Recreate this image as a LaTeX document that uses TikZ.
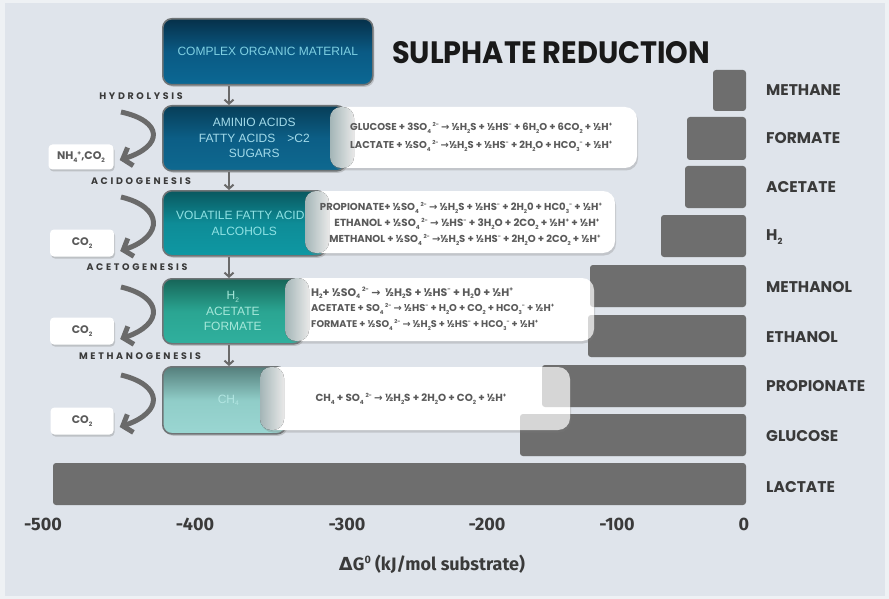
\documentclass[tikz,border=0pt]{standalone}
\usepackage{fontspec}
\setmainfont{Liberation Sans}
\newfontfamily\pop{Poppins}
\newfontfamily\popsp{Poppins}[LetterSpace=28]
\newfontfamily\arrfont{DejaVu Sans}
\newfontfamily\fira{Fira Sans}
\usetikzlibrary{arrows.meta,shadows,calc}
\definecolor{bg}{HTML}{DFE4EB}
\definecolor{frame}{HTML}{EEF1F4}
\definecolor{barc}{HTML}{6E6E6E}
\definecolor{lblc}{HTML}{3A3A3A}
\definecolor{eqc}{HTML}{5A5A5A}
\definecolor{arrc}{HTML}{6A6A6A}
\definecolor{bordc}{HTML}{6F7476}
\definecolor{curlc}{HTML}{B3C7C9}
\definecolor{bzt}{HTML}{063049}\definecolor{bzm}{HTML}{0A5A84}\definecolor{bzb}{HTML}{0B6894}\definecolor{bzx}{HTML}{7FD0E2}
\definecolor{bat}{HTML}{073E58}\definecolor{bam}{HTML}{0C5E86}\definecolor{bab}{HTML}{0E6990}\definecolor{bax}{HTML}{A3DBEA}
\definecolor{bbt}{HTML}{09585F}\definecolor{bbm}{HTML}{0E8C97}\definecolor{bbb}{HTML}{0E98A3}\definecolor{bbx}{HTML}{8FE2E4}
\definecolor{bct}{HTML}{176558}\definecolor{bcm}{HTML}{2AA592}\definecolor{bcb}{HTML}{30B09E}\definecolor{bcx}{HTML}{A6E8DA}
\definecolor{bdt}{HTML}{557F7C}\definecolor{bdm}{HTML}{90CDC8}\definecolor{bdb}{HTML}{9AD6D2}\definecolor{bdx}{HTML}{B2E6E2}
\newcommand\eqsub[1]{\raisebox{-0.45ex}{\scalebox{0.55}{#1}}}
\newcommand\eqsup[1]{\raisebox{0.75ex}{\scalebox{0.55}{#1}}}
\newcommand\SOf{SO\eqsub{4}\,\eqsup{2-}}
\newcommand\rar{{\arrfont\bfseries →}}
\newcommand\hf{½}
\tikzset{
  cbox/.style={draw=bordc, line width=1.6pt, rounded corners=9pt, anchor=north west,
     inner sep=0pt, align=center, font=\fontsize{12}{15.5}\selectfont,
     drop shadow={opacity=0.35, shadow xshift=1.5pt, shadow yshift=-2pt}},
  eqbox/.style={fill=white, rounded corners=12pt,
     drop shadow={opacity=0.3, shadow xshift=1pt, shadow yshift=-2.5pt}},
  curl/.style={left color=curlc, right color=white, rounded corners=11pt, fill opacity=0.9},
  eqt/.style={inner sep=0pt, text=eqc, font=\pop\bfseries\fontsize{8}{8}\selectfont},
  stagelbl/.style={inner sep=0pt, text=lblc, font=\popsp\bfseries\fontsize{9.5}{9.5}\selectfont},
  gasbox/.style={fill=white, rounded corners=4pt, inner sep=0pt, text=eqc,
     font=\pop\bfseries\fontsize{11}{11}\selectfont,
     drop shadow={opacity=0.35, shadow xshift=1pt, shadow yshift=-2pt}},
  curv/.style={draw=arrc, line width=5pt, -{Straight Barb[length=8pt,width=19pt]}},
  darr/.style={draw=arrc, line width=2pt, -{Straight Barb[length=4pt,width=9pt]}},
  barlbl/.style={anchor=west, inner sep=0pt, text=lblc, font=\pop\bfseries\fontsize{15.5}{15.5}\selectfont},
  tick/.style={inner sep=0pt, text=lblc, font=\fira\bfseries\fontsize{18}{18}\selectfont},
  gbar/.style={fill=barc, rounded corners=3pt},
  ghost/.style={fill=barc, fill opacity=0.28, rounded corners=3pt}
}
\begin{document}
\begin{tikzpicture}[x=1pt,y=-1pt]
\useasboundingbox (0,0) rectangle (889,599);
\fill[frame] (0,0) rectangle (889,599);
\fill[bg] (5,3) rectangle (885,596);

% ---- bars
\fill[gbar] (713,70) rectangle (746,111);
\fill[gbar] (687,117) rectangle (746,160);
\fill[gbar] (685,166) rectangle (746,208);
\fill[gbar] (661,215) rectangle (746,257);
\fill[gbar] (590,265) rectangle (746,307);
\fill[gbar] (588,315) rectangle (746,357);
\fill[gbar] (542,365) rectangle (746,407);
\fill[gbar] (520,414) rectangle (746,456);
\fill[gbar] (53,463) rectangle (746,505);

\node[barlbl] (lmethane) at (766,90) {METHANE};
\node[barlbl] (lformate) at (766,138) {FORMATE};
\node[barlbl] (lacetate) at (766,187) {ACETATE};
\node[barlbl] (lh2) at (766,237) {H\eqsub{2}};
\node[barlbl] (lmethanol) at (766,287) {METHANOL};
\node[barlbl] (lethanol) at (766,337) {ETHANOL};
\node[barlbl] (lpropionate) at (766,386) {PROPIONATE};
\node[barlbl] (lglucose) at (766,436) {GLUCOSE};
\node[barlbl] (llactate) at (766,487) {LACTATE};

% ---- axis
\node[tick] (t500) at (43,524) {-500};
\node[tick] (t400) at (195,524) {-400};
\node[tick] (t300) at (347,524) {-300};
\node[tick] (t200) at (487,524) {-200};
\node[tick] (t100) at (617,524) {-100};
\node[tick] (t0) at (744,524) {0};
\node[inner sep=0pt, text=lblc, font=\fira\bfseries\fontsize{18}{18}\selectfont] (axlbl) at (432,564)
  {{\arrfont\bfseries Δ}G\raisebox{0.7ex}{\scalebox{0.6}{0}} (kJ/mol substrate)};

% ---- title
\node[inner sep=0pt, anchor=west, text=black!90] (title) at (392,53)
  {\resizebox{318pt}{22pt}{\pop\bfseries SULPHATE REDUCTION}};

% ---- coloured boxes
\node[cbox, minimum width=210pt, minimum height=66pt, top color=bzt, bottom color=bzb, middle color=bzm, text=bzx] (b0) at (162,18) {COMPLEX ORGANIC MATERIAL};
\node[cbox, minimum width=183pt, minimum height=65pt, top color=bat, bottom color=bab, middle color=bam, text=bax] (b1) at (162,105) {AMINIO ACIDS\\FATTY ACIDS\quad{}>C2\\SUGARS};
\node[cbox, minimum width=163pt, minimum height=65pt, top color=bbt, bottom color=bbb, middle color=bbm, text=bbx] (b2) at (162,190) {VOLATILE FATTY ACIDS\\ALCOHOLS};
\node[cbox, minimum width=140pt, minimum height=65pt, top color=bct, bottom color=bcb, middle color=bcm, text=bcx] (b3) at (162,278) {H\eqsub{2}\\ACETATE\\FORMATE};
\node[cbox, minimum width=123pt, minimum height=67pt, top color=bdt, bottom color=bdb, middle color=bdm, text=bdx] (b4) at (162,366) {\hspace*{8pt}CH\eqsub{4}};

% ---- down arrows
\draw[darr] (b0.south -| 229,0) -- (b1.north -| 229,0);
\draw[darr] (b1.south -| 229,0) -- (b2.north -| 229,0);
\draw[darr] (b2.south -| 229,0) -- (b3.north -| 229,0);
\draw[darr] (b3.south -| 229,0) -- (b4.north -| 229,0);

% ---- equation boxes
\path[eqbox] (330,107) rectangle (637,168);
\fill[curl] (330,107) rectangle (354,168);
\node[eqt, anchor=west] (e11) at (350,128) {\resizebox{262pt}{!}{GLUCOSE + 3\SOf\ \rar\ \hf H\eqsub{2}S + \hf HS\eqsup{-} + 6H\eqsub{2}O + 6CO\eqsub{2} + \hf H\eqsup{+}}};
\node[eqt, anchor=west] (e12) at (350,146) {\resizebox{262pt}{!}{LACTATE + \hf\SOf\ \rar\hf H\eqsub{2}S + \hf HS\eqsup{-} + 2H\eqsub{2}O + HCO\eqsub{3}\eqsup{-} + \hf H\eqsup{+}}};

\path[eqbox] (305,191) rectangle (615,253);
\fill[curl] (305,191) rectangle (329,253);
\node[eqt] (e21) at (461,208) {\resizebox{282pt}{!}{PROPIONATE+ \hf\SOf\ \rar\ \hf H\eqsub{2}S + \hf HS\eqsup{-} + 2H\eqsub{2}0 + HC0\eqsub{3}\eqsup{-} + \hf H\eqsup{+}}};
\node[eqt] (e22) at (467,224) {\resizebox{265pt}{!}{ETHANOL + \hf\SOf\ \rar\ \hf HS\eqsup{-} + 3H\eqsub{2}O + 2CO\eqsub{2} + \hf H\eqsup{+} + \hf H\eqsup{+}}};
\node[eqt] (e23) at (465,240) {\resizebox{271pt}{!}{METHANOL + \hf\SOf\ \rar\hf H\eqsub{2}S + \hf HS\eqsup{-} + 2H\eqsub{2}O + 2CO\eqsub{2} + \hf H\eqsup{+}}};

\path[eqbox] (285,278) rectangle (594,341);
\fill[curl] (285,278) rectangle (309,341);
\node[eqt, anchor=west] (e31) at (311,293) {\resizebox{202pt}{!}{H\eqsub{2}+ \hf\SOf\ \rar\ \ \hf H\eqsub{2}S + \hf HS\eqsup{-} + H\eqsub{2}0 + \hf H\eqsup{+}}};
\node[eqt, anchor=west] (e32) at (311,309) {\resizebox{243pt}{!}{ACETATE + \SOf\ \rar\ \hf HS\eqsup{-} + H\eqsub{2}O + CO\eqsub{2} + HCO\eqsub{3}\eqsup{-} + \hf H\eqsup{+}}};
\node[eqt, anchor=west] (e33) at (311,325) {\resizebox{227pt}{!}{FORMATE + \hf\SOf\ \rar\ \hf H\eqsub{2}S + \hf HS\eqsup{-} + HCO\eqsub{3}\eqsup{-} + \hf H\eqsup{+}}};

\path[eqbox] (260,367) rectangle (570,430);
\fill[curl] (260,367) rectangle (284,430);
\node[eqt] (e41) at (411,399) {\resizebox{191pt}{!}{CH\eqsub{4} + \SOf\ \rar\ \hf H\eqsub{2}S + 2H\eqsub{2}O + CO\eqsub{2} + \hf H\eqsup{+}}};

% ---- bars seen through the white boxes
\fill[ghost] (590,265) rectangle (746,307);
\fill[ghost] (588,315) rectangle (746,357);
\fill[ghost] (542,365) rectangle (746,407);
\fill[ghost] (520,414) rectangle (746,456);

% ---- stage labels
\node[stagelbl] (hyd) at (141,96) {HYDROLYSIS};
\node[stagelbl] (acid) at (141,181) {ACIDOGENESIS};
\node[stagelbl] (acet) at (137,267) {ACETOGENESIS};
\node[stagelbl] (meth) at (140,356) {METHANOGENESIS};

% ---- gas boxes
\node[gasbox, minimum width=65pt, minimum height=25pt] (g1) at (81,157) {NH\eqsub{4}\eqsup{+},CO\eqsub{2}};
\node[gasbox, minimum width=64pt, minimum height=27pt] (g2) at (82,243) {CO\eqsub{2}};
\node[gasbox, minimum width=64pt, minimum height=27pt] (g3) at (82,331) {CO\eqsub{2}};
\node[gasbox, minimum width=63pt, minimum height=27pt] (g4) at (82,421) {CO\eqsub{2}};

% ---- curved arrows
\coordinate (s1) at (121,112);
\coordinate (s2) at (121,197);
\coordinate (s3) at (121,287);
\coordinate (s4) at (121,375);
\draw[curv] (s1) .. controls (163,121) and (164,146) .. ($(g1.east)+(6,3)$);
\draw[curv] (s2) .. controls (163,207) and (164,236) .. ($(g2.east)+(6,8)$);
\draw[curv] (s3) .. controls (163,297) and (164,324) .. ($(g3.east)+(6,8)$);
\draw[curv] (s4) .. controls (163,385) and (164,412) .. ($(g4.east)+(6,6)$);
\end{tikzpicture}
\end{document}
